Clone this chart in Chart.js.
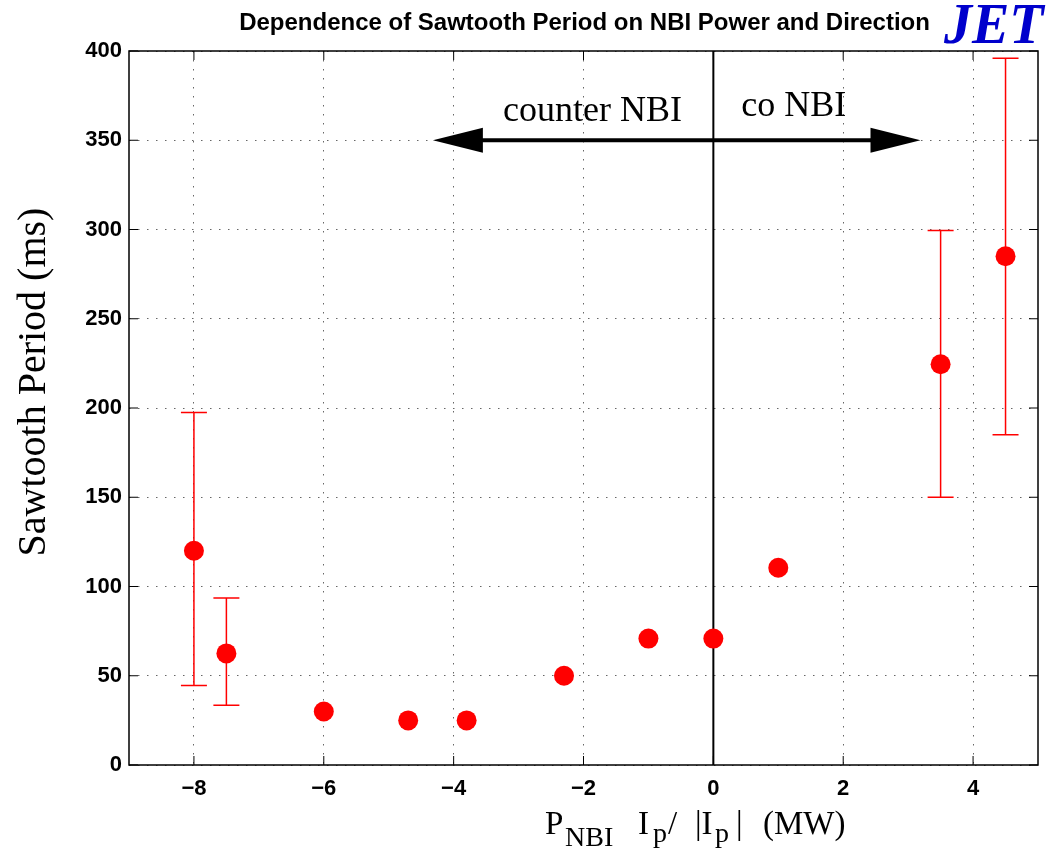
<!DOCTYPE html>
<html>
<head>
<meta charset="utf-8">
<script src="https://cdn.jsdelivr.net/npm/chart.js"></script>
<style>
  html, body { margin: 0; padding: 0; background: #fff; }
  #wrap { width: 1057px; height: 851px; }
</style>
</head>
<body>
<div id="wrap"><canvas id="sawtooth"></canvas></div>
<script>
// NBI power (signed with plasma current direction), MW
const powerNBI = [-8, -7.5, -6, -4.7, -3.8, -2.3, -1, 0, 1, 3.5, 4.5];
// sawtooth period, ms
const period   = [120, 62.5, 30, 25, 25, 50, 70.8, 70.8, 110.5, 224.5, 285];
// error bar limits (null = no bar)
const errLow   = [44.5, 33.5, null, null, null, null, null, null, null, 150, 185];
const errHigh  = [197.5, 93.5, null, null, null, null, null, null, null, 299.5, 396];

const xTickValues = [-8, -6, -4, -2, 0, 2, 4];
const yTickValues = [0, 50, 100, 150, 200, 250, 300, 350, 400];

// annotation arrow and its labels
const arrowY = 350;
const arrowLeft = -4.32;
const arrowRight = 3.19;
const noteText = ['counter NBI', 'co NBI'];
const noteX = [-3.24, 0.43];
const noteY = [361, 363.5];

const chartTitle = 'Dependence of Sawtooth Period on NBI Power and Direction';
const yTitle = 'Sawtooth Period (ms)';

const sans = "'Liberation Sans', Arial, sans-serif";
const serif = "'Liberation Serif', 'Times New Roman', serif";

const extras = {
  id: 'extras',
  beforeDatasetsDraw(chart) {
    // error bars under the markers
    const { ctx, scales: { x, y } } = chart;
    ctx.save();
    ctx.strokeStyle = '#ff0000';
    ctx.lineWidth = 1.5;
    powerNBI.forEach((p, i) => {
      if (errLow[i] == null) return;
      const px = x.getPixelForValue(p);
      const lo = y.getPixelForValue(errLow[i]);
      const hi = y.getPixelForValue(errHigh[i]);
      ctx.beginPath();
      ctx.moveTo(px, lo); ctx.lineTo(px, hi);
      ctx.moveTo(px - 13, lo); ctx.lineTo(px + 13, lo);
      ctx.moveTo(px - 13, hi); ctx.lineTo(px + 13, hi);
      ctx.stroke();
    });
    ctx.restore();
  },
  afterDatasetsDraw(chart) {
    // double arrow: counter <-> co
    const { ctx, scales: { x, y } } = chart;
    const yp = y.getPixelForValue(arrowY);
    const l = x.getPixelForValue(arrowLeft);
    const r = x.getPixelForValue(arrowRight);
    ctx.save();
    ctx.fillStyle = '#000';
    ctx.strokeStyle = '#000';
    ctx.lineWidth = 4;
    ctx.beginPath();
    ctx.moveTo(l + 40, yp); ctx.lineTo(r - 40, yp);
    ctx.stroke();
    [[l, 1], [r, -1]].forEach(([tip, d]) => {
      ctx.beginPath();
      ctx.moveTo(tip, yp);
      ctx.lineTo(tip + d * 50, yp - 12.5);
      ctx.lineTo(tip + d * 50, yp + 12.5);
      ctx.closePath();
      ctx.fill();
    });
    ctx.font = '36px ' + serif;
    ctx.textAlign = 'left';
    ctx.textBaseline = 'alphabetic';
    noteText.forEach((t, i) => {
      ctx.fillText(t, x.getPixelForValue(noteX[i]), y.getPixelForValue(noteY[i]));
    });
    ctx.restore();
  },
  afterDraw(chart) {
    const { ctx, chartArea: a, scales: { x, y } } = chart;
    ctx.save();
    // box and inward ticks
    ctx.strokeStyle = '#000';
    ctx.lineWidth = 1.5;
    ctx.strokeRect(a.left, a.top, a.right - a.left, a.bottom - a.top);
    ctx.lineWidth = 1;
    ctx.beginPath();
    x.ticks.forEach(t => {
      const px = x.getPixelForValue(t.value);
      ctx.moveTo(px, a.bottom); ctx.lineTo(px, a.bottom - 9);
      ctx.moveTo(px, a.top); ctx.lineTo(px, a.top + 9);
    });
    y.ticks.forEach(t => {
      const py = y.getPixelForValue(t.value);
      ctx.moveTo(a.left, py); ctx.lineTo(a.left + 9, py);
      ctx.moveTo(a.right, py); ctx.lineTo(a.right - 9, py);
    });
    ctx.stroke();

    // title
    ctx.fillStyle = '#000';
    ctx.font = 'bold 24px ' + sans;
    ctx.textAlign = 'center';
    ctx.textBaseline = 'alphabetic';
    ctx.fillText(chartTitle, (a.left + a.right) / 2 + 1, 30);

    // JET logo
    ctx.fillStyle = '#0000cc';
    ctx.font = 'italic bold 56px ' + serif;
    ctx.textAlign = 'left';
    ctx.fillText('JET', 944, 43);

    // y axis title
    ctx.fillStyle = '#000';
    ctx.save();
    ctx.translate(45, 382);
    ctx.rotate(-Math.PI / 2);
    ctx.font = '40px ' + serif;
    ctx.textAlign = 'center';
    ctx.fillText(yTitle, 0, 0);
    ctx.restore();

    // x axis title with subscripts
    const parts = [
      ['P', 0, 0, 33], ['NBI', 20, 12, 28], ['I', 93, 0, 33], ['p', 108, 8, 28],
      ['/', 123, 0, 33], ['|I', 150, 0, 33], ['p', 170, 8, 28], ['|', 191, 0, 33],
      ['(MW)', 218, 0, 33]
    ];
    ctx.textAlign = 'left';
    parts.forEach(([t, dx, dy, size]) => {
      ctx.font = size + 'px ' + serif;
      ctx.fillText(t, 545 + dx, 834 + dy);
    });
    ctx.restore();
  }
};

const tickFont = { family: sans, size: 22, weight: 'bold' };

new Chart(document.getElementById('sawtooth'), {
  type: 'scatter',
  data: {
    datasets: [
      {
        label: 'Sawtooth period',
        data: powerNBI.map((p, i) => ({ x: p, y: period[i] })),
        pointRadius: 10,
        pointBackgroundColor: '#ff0000',
        pointBorderWidth: 0,
        showLine: false
      },
      {
        label: 'zero',
        type: 'line',
        data: [{ x: 0, y: 0 }, { x: 0, y: 400 }],
        borderColor: '#000',
        borderWidth: 2,
        pointRadius: 0
      }
    ]
  },
  options: {
    responsive: true,
    maintainAspectRatio: false,
    animation: false,
    layout: { padding: { top: 51, right: 19, left: 0, bottom: 0 } },
    plugins: {
      legend: { display: false },
      tooltip: { enabled: false },
      title: { display: false }
    },
    scales: {
      x: {
        type: 'linear',
        min: -9,
        max: 5,
        afterFit(s) { s.height = 86; },
        afterBuildTicks(s) { s.ticks = xTickValues.map(v => ({ value: v })); },
        ticks: {
          font: tickFont,
          color: '#000',
          padding: 11,
          callback: v => String(v).replace('-', '\u2212')
        },
        grid: { color: '#666', lineWidth: 1, drawTicks: false },
        border: { display: false, dash: [1.5, 7.5] }
      },
      y: {
        min: 0,
        max: 400,
        afterFit(s) { s.width = 129; },
        afterBuildTicks(s) { s.ticks = yTickValues.map(v => ({ value: v })); },
        ticks: {
          font: tickFont,
          color: '#000',
          padding: 7
        },
        grid: { color: '#666', lineWidth: 1, drawTicks: false },
        border: { display: false, dash: [1.5, 7.5] }
      }
    }
  },
  plugins: [extras]
});
</script>
</body>
</html>
